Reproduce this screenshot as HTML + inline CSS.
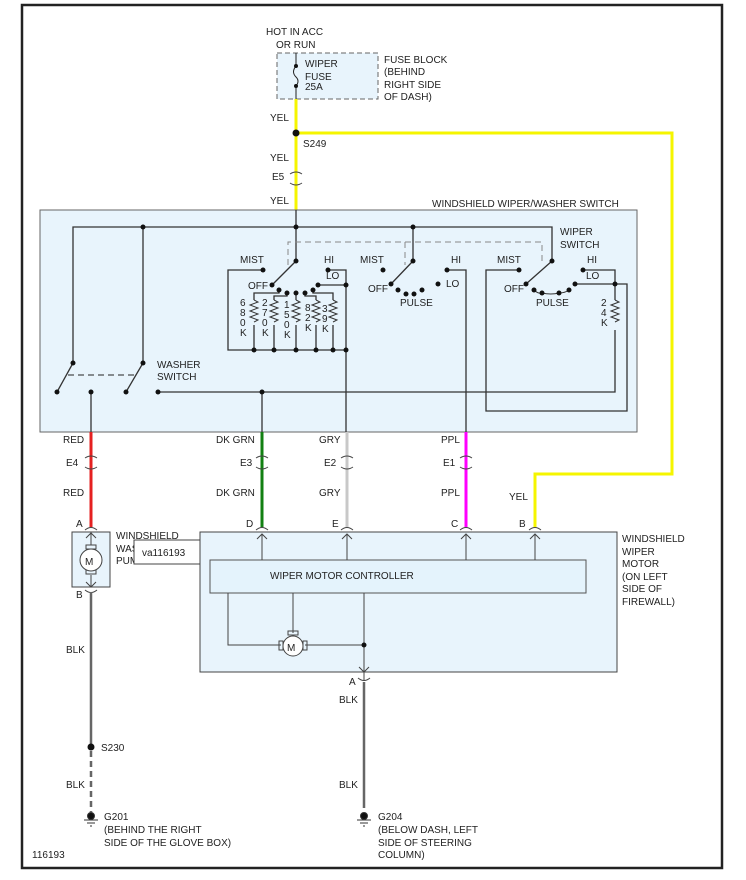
<!DOCTYPE html>
<html><head><meta charset="utf-8"><style>
body{margin:0;background:#fff}
svg{display:block}
text{font-family:"Liberation Sans",sans-serif;font-size:10px;fill:#222}
</style></head><body>
<svg width="746" height="880" viewBox="0 0 746 880" xmlns="http://www.w3.org/2000/svg">
<rect x="0" y="0" width="746" height="880" fill="#fff"/>
<rect x="22" y="5" width="700" height="863" fill="none" stroke="#222" stroke-width="2.5"/>

<rect x="277" y="53" width="101" height="46" fill="#e8f4fc" stroke="#666" stroke-dasharray="5,3"/>
<text x="266" y="35">HOT IN ACC</text><text x="276" y="48">OR RUN</text>
<text x="305" y="67">WIPER</text><text x="305" y="80">FUSE</text><text x="305" y="90">25A</text>
<text x="384" y="63">FUSE BLOCK</text><text x="384" y="75">(BEHIND</text><text x="384" y="88">RIGHT SIDE</text><text x="384" y="100">OF DASH)</text>
<line x1="296" y1="53" x2="296" y2="66" stroke="#222"/>
<path d="M296,66 q-5,6 0,11 q4,4 0,9" fill="none" stroke="#222"/>
<line x1="296" y1="86" x2="296" y2="99" stroke="#222"/>
<circle cx="296" cy="66" r="2" fill="#111"/><circle cx="296" cy="86" r="2" fill="#111"/>

<path d="M296,99 V210" stroke="#f5f500" stroke-width="3" fill="none"/>
<path d="M296,133 H672 V474 H535 V527" stroke="#f5f500" stroke-width="3" fill="none"/>
<circle cx="296" cy="133" r="3.5" fill="#111"/>
<text x="270" y="121">YEL</text><text x="303" y="147">S249</text>
<text x="270" y="161">YEL</text><text x="272" y="180">E5</text><text x="270" y="204">YEL</text>
<path d="M290,174 q6,-4 12,0 M290,183 q6,4 12,0" stroke="#444" fill="none"/>

<rect x="40" y="210" width="597" height="222" fill="#e8f4fc" stroke="#666"/>
<text x="432" y="207">WINDSHIELD WIPER/WASHER SWITCH</text>
<g stroke="#333" stroke-width="1.3" fill="none">
<path d="M73,363 V227 H552 V261"/>
<path d="M143,227 V363"/>
<path d="M296,210 V261"/>
<path d="M413,227 V261"/>
<path d="M73,363 L57,392 M143,363 L126,392"/>
<path d="M91,392 V432"/>
<path d="M158,392 H615 V330"/>
<path d="M262,392 V432"/>
<path d="M296,261 L272,285"/>
<path d="M263,270 H228 V350 H346"/>
<path d="M328,270 H346 V432"/>
<path d="M318,285 H346"/>
<path d="M254,350 V325 M274,350 V325 M296,350 V325 M316,350 V325 M333,350 V325"/>
<path d="M254,300 V293 H279 V290 M274,300 V296 H287 V293 M296,293 V300 M316,300 V296 H305 V293 M333,300 V293 H313 V290"/>
<path d="M413,261 L391,284"/>
<path d="M447,270 H466 V432"/>
<path d="M552,261 L526,284"/>
<path d="M519,270 H486 V411 H627 V284 H575"/>
<path d="M583,270 H615 V300"/>
</g>
<g stroke="#333" stroke-width="1" fill="none">
<path d="M254,300 l4,2 l-8,3 l8,3 l-8,3 l8,3 l-8,3 l8,3 l-4,2"/>
<path d="M274,300 l4,2 l-8,3 l8,3 l-8,3 l8,3 l-8,3 l8,3 l-4,2"/>
<path d="M296,300 l4,2 l-8,3 l8,3 l-8,3 l8,3 l-8,3 l8,3 l-4,2"/>
<path d="M316,300 l4,2 l-8,3 l8,3 l-8,3 l8,3 l-8,3 l8,3 l-4,2"/>
<path d="M333,300 l4,2 l-8,3 l8,3 l-8,3 l8,3 l-8,3 l8,3 l-4,2"/>
<path d="M615,300 l4,2 l-8,3 l8,3 l-8,3 l8,3 l-8,3 l8,3 l-4,2"/>
<path d="M534,290 q4,4 8,3 q9,2 17,0 q6,0 10,-3"/>
</g>
<g stroke="#888" stroke-dasharray="6,4" fill="none">
<path d="M288,265 V242 H542 V265 M405,242 V265"/>
</g>
<path d="M68,375 H136" stroke="#222" stroke-dasharray="6,4"/>
<g fill="#111">
<circle cx="143" cy="227" r="2.5"/><circle cx="296" cy="227" r="2.5"/><circle cx="413" cy="227" r="2.5"/>
<circle cx="73" cy="363" r="2.5"/><circle cx="143" cy="363" r="2.5"/><circle cx="57" cy="392" r="2.5"/><circle cx="126" cy="392" r="2.5"/>
<circle cx="91" cy="392" r="2.5"/><circle cx="158" cy="392" r="2.5"/><circle cx="262" cy="392" r="2.5"/>
<circle cx="296" cy="261" r="2.5"/><circle cx="263" cy="270" r="2.5"/><circle cx="328" cy="270" r="2.5"/><circle cx="272" cy="285" r="2.5"/><circle cx="346" cy="285" r="2.5"/><circle cx="318" cy="285" r="2.5"/>
<circle cx="279" cy="290" r="2.5"/><circle cx="287" cy="293" r="2.5"/><circle cx="296" cy="293" r="2.5"/><circle cx="305" cy="293" r="2.5"/><circle cx="313" cy="290" r="2.5"/>
<circle cx="254" cy="350" r="2.5"/><circle cx="274" cy="350" r="2.5"/><circle cx="296" cy="350" r="2.5"/><circle cx="316" cy="350" r="2.5"/><circle cx="333" cy="350" r="2.5"/><circle cx="346" cy="350" r="2.5"/>
<circle cx="413" cy="261" r="2.5"/><circle cx="383" cy="270" r="2.5"/><circle cx="447" cy="270" r="2.5"/><circle cx="391" cy="284" r="2.5"/><circle cx="438" cy="284" r="2.5"/>
<circle cx="398" cy="290" r="2.5"/><circle cx="406" cy="294" r="2.5"/><circle cx="414" cy="294" r="2.5"/><circle cx="422" cy="290" r="2.5"/>
<circle cx="552" cy="261" r="2.5"/><circle cx="519" cy="270" r="2.5"/><circle cx="583" cy="270" r="2.5"/><circle cx="526" cy="284" r="2.5"/><circle cx="575" cy="284" r="2.5"/><circle cx="615" cy="284" r="2.5"/>
<circle cx="534" cy="290" r="2.5"/><circle cx="542" cy="293" r="2.5"/><circle cx="559" cy="293" r="2.5"/><circle cx="569" cy="290" r="2.5"/>
</g>
<text x="157" y="368">WASHER</text><text x="157" y="380">SWITCH</text>
<text x="240" y="263">MIST</text><text x="324" y="263">HI</text><text x="326" y="279">LO</text><text x="248" y="289">OFF</text>
<text x="360" y="263">MIST</text><text x="451" y="263">HI</text><text x="446" y="287">LO</text><text x="368" y="292">OFF</text><text x="400" y="306">PULSE</text>
<text x="497" y="263">MIST</text><text x="587" y="263">HI</text><text x="586" y="279">LO</text><text x="504" y="292">OFF</text><text x="536" y="306">PULSE</text>
<text x="560" y="235">WIPER</text><text x="560" y="248">SWITCH</text>
<g>
<text x="240" y="306" font-size="9">6</text><text x="240" y="316" font-size="9">8</text><text x="240" y="326" font-size="9">0</text><text x="240" y="336" font-size="9">K</text>
<text x="262" y="306" font-size="9">2</text><text x="262" y="316" font-size="9">7</text><text x="262" y="326" font-size="9">0</text><text x="262" y="336" font-size="9">K</text>
<text x="284" y="308" font-size="9">1</text><text x="284" y="318" font-size="9">5</text><text x="284" y="328" font-size="9">0</text><text x="284" y="338" font-size="9">K</text>
<text x="305" y="311" font-size="9">8</text><text x="305" y="321" font-size="9">2</text><text x="305" y="331" font-size="9">K</text>
<text x="322" y="312" font-size="9">3</text><text x="322" y="322" font-size="9">9</text><text x="322" y="332" font-size="9">K</text>
<text x="601" y="306" font-size="9">2</text><text x="601" y="316" font-size="9">4</text><text x="601" y="326" font-size="9">K</text>
</g>

<path d="M91,432 V527" stroke="#e52020" stroke-width="3"/>
<path d="M262,432 V527" stroke="#128012" stroke-width="3"/>
<path d="M347,432 V527" stroke="#c8c8c8" stroke-width="3"/>
<path d="M466,432 V527" stroke="#ff00ff" stroke-width="3"/>
<g stroke="#444" fill="none">
<path d="M85,458 q6,-4 12,0 M85,467 q6,4 12,0"/>
<path d="M256,458 q6,-4 12,0 M256,467 q6,4 12,0"/>
<path d="M341,458 q6,-4 12,0 M341,467 q6,4 12,0"/>
<path d="M460,458 q6,-4 12,0 M460,467 q6,4 12,0"/>
<path d="M85,530 q6,-5 12,0 M256,530 q6,-5 12,0 M341,530 q6,-5 12,0 M460,530 q6,-5 12,0 M529,530 q6,-5 12,0"/>
<path d="M85,590 q6,5 12,0 M358,678 q6,5 12,0"/>
</g>
<text x="63" y="443">RED</text><text x="66" y="466">E4</text><text x="63" y="496">RED</text>
<text x="216" y="443">DK GRN</text><text x="240" y="466">E3</text><text x="216" y="496">DK GRN</text>
<text x="319" y="443">GRY</text><text x="324" y="466">E2</text><text x="319" y="496">GRY</text>
<text x="441" y="443">PPL</text><text x="443" y="466">E1</text><text x="441" y="496">PPL</text>
<text x="509" y="500">YEL</text>
<text x="76" y="527">A</text><text x="246" y="527">D</text><text x="332" y="527">E</text><text x="451" y="527">C</text><text x="519" y="527">B</text>

<rect x="72" y="532" width="38" height="55" fill="#e8f4fc" stroke="#444"/>
<g stroke="#444" fill="none">
<path d="M91,532 V545 M86,538 l5,-5 l5,5 M91,575 V587 M86,582 l5,5 l5,-5"/>
<rect x="86" y="545" width="10" height="4"/><rect x="86" y="570" width="10" height="4"/>
</g>
<circle cx="91" cy="560" r="11" fill="#fff" stroke="#444"/><text x="85" y="565" font-size="13">M</text>
<text x="116" y="539">WINDSHIELD</text><text x="116" y="552">WAS</text><text x="116" y="564">PUM</text>
<rect x="134" y="540" width="67" height="24" fill="#fff" stroke="#444"/>
<text x="142" y="556" font-size="11">va116193</text>

<rect x="200" y="532" width="417" height="140" fill="#e8f4fc" stroke="#444"/>
<rect x="210" y="560" width="376" height="33" fill="#e4f3fc" stroke="#555"/>
<text x="270" y="579">WIPER MOTOR CONTROLLER</text>
<g stroke="#444" fill="none">
<path d="M262,560 V534 M257,539 l5,-5 l5,5"/>
<path d="M347,560 V534 M342,539 l5,-5 l5,5"/>
<path d="M466,560 V534 M461,539 l5,-5 l5,5"/>
<path d="M535,560 V534 M530,539 l5,-5 l5,5"/>
<path d="M228,593 V645 H281 M305,645 H364 M293,593 V633 M364,593 V680 M359,667 l5,5 l5,-5"/>
<rect x="288" y="631" width="10" height="4"/><rect x="279" y="641" width="4" height="9"/><rect x="303" y="641" width="4" height="9"/>
</g>
<circle cx="293" cy="646" r="10" fill="#fff" stroke="#444"/><text x="287" y="651" font-size="12">M</text>
<circle cx="364" cy="645" r="2.5" fill="#111"/>
<text x="622" y="542">WINDSHIELD</text><text x="622" y="555">WIPER</text><text x="622" y="567">MOTOR</text><text x="622" y="580">(ON LEFT</text><text x="622" y="592">SIDE OF</text><text x="622" y="605">FIREWALL)</text>
<text x="76" y="598">B</text><text x="349" y="685">A</text>

<path d="M91,592 V747" stroke="#666" stroke-width="2.5"/>
<path d="M91,751 V812" stroke="#666" stroke-width="2.5" stroke-dasharray="6,4"/>
<circle cx="91" cy="747" r="3.5" fill="#111"/>
<path d="M364,682 V808" stroke="#666" stroke-width="2.5"/>
<text x="66" y="653">BLK</text><text x="101" y="751">S230</text><text x="66" y="788">BLK</text>
<text x="339" y="703">BLK</text><text x="339" y="788">BLK</text>
<g stroke="#333">
<circle cx="91" cy="816" r="3.5" fill="#111"/><path d="M84,820 H98 M87,823 H95 M90,826 H92"/>
<circle cx="364" cy="816" r="3.5" fill="#111"/><path d="M357,820 H371 M360,823 H368 M363,826 H365"/>
</g>
<text x="104" y="820">G201</text><text x="104" y="833">(BEHIND THE RIGHT</text><text x="104" y="846">SIDE OF THE GLOVE BOX)</text>
<text x="378" y="820">G204</text><text x="378" y="833">(BELOW DASH, LEFT</text><text x="378" y="846">SIDE OF STEERING</text><text x="378" y="858">COLUMN)</text>
<text x="32" y="858">116193</text>
</svg>
</body></html>
